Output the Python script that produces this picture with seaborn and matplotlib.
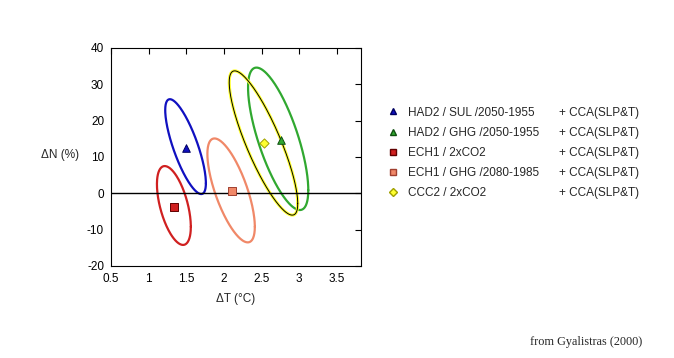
import numpy as np
import pandas as pd
import matplotlib.pyplot as plt
import seaborn as sns
from matplotlib.lines import Line2D

sns.set_style("white")
plt.rcParams['font.family'] = ['Liberation Sans', 'DejaVu Sans']
plt.rcParams['axes.unicode_minus'] = False

# Data
models = ['HAD2 / SUL /2050-1955', 'HAD2 / GHG /2050-1955', 'ECH1 / 2xCO2',
          'ECH1 / GHG /2080-1985', 'CCC2 / 2xCO2']
method = '+ CCA(SLP&T)'
dT = [1.50, 2.76, 1.34, 2.11, 2.53]
dN = [12.5, 14.8, -3.7, 0.6, 13.8]

# Ellipses: centre, half-width in x, half-height in y, phase (sets tilt)
ell_cx = [1.49, 2.72, 1.335, 2.095, 2.525]
ell_cy = [12.85, 15.0, -3.35, 0.8, 13.85]
ell_ax = [0.27, 0.40, 0.225, 0.315, 0.455]
ell_ay = [13.05, 19.6, 10.85, 14.3, 19.85]
ell_cos = [-0.77, -0.72, -0.54, -0.70, -0.84]

colors = ['#1010C0', '#30A830', '#D02020', '#F08868', '#FFFF30']
marker_list = ['^', '^', 's', 's', 'D']
marker_edge = ['#000060', '#105010', '#600000', '#A04030', '#A0A000']

fig = plt.figure(figsize=(6.74, 3.58), dpi=100)
ax = fig.add_axes([0.1647, 0.257, 0.3709, 0.609])

t = np.linspace(0, 2 * np.pi, 200)
for i in range(len(models)):
    phi = np.arccos(ell_cos[i])
    ex = ell_cx[i] + ell_ax[i] * np.cos(t)
    ey = ell_cy[i] + ell_ay[i] * np.cos(t + phi)
    edf = pd.DataFrame({'x': ex, 'y': ey})
    if i == 4:
        sns.lineplot(data=edf, x='x', y='y', sort=False, ax=ax, color=colors[i], lw=2.2, estimator=None)
        sns.lineplot(data=edf, x='x', y='y', sort=False, ax=ax, color='black', lw=0.7, estimator=None)
    else:
        sns.lineplot(data=edf, x='x', y='y', sort=False, ax=ax, color=colors[i], lw=1.6, estimator=None)

ax.axhline(0, color='black', lw=1)

handles = []
for i in range(len(models)):
    sns.scatterplot(x=[dT[i]], y=[dN[i]], ax=ax, marker=marker_list[i], color=colors[i],
                    s=30 if i < 4 else 22, edgecolor=marker_edge[i], linewidth=0.7, zorder=5)
    handles.append(Line2D([], [], ls='none', marker=marker_list[i], color=colors[i],
                          markeredgecolor=marker_edge[i], markersize=4.5 if i < 4 else 4))

ax.set_xlim(0.5, 3.82)
ax.set_ylim(-20, 40)
ax.set_xticks([0.5, 1, 1.5, 2, 2.5, 3, 3.5])
ax.set_xticklabels(['0.5', '1', '1.5', '2', '2.5', '3', '3.5'])
ax.set_yticks([-20, -10, 0, 10, 20, 30, 40])
ax.tick_params(direction='in', length=4, width=0.8, top=True, right=True,
               labelsize=8.5, colors='black', pad=5)
for s in ax.spines.values():
    s.set_color('black')
    s.set_linewidth(0.8)
ax.set_xlabel('ΔT (°C)', fontsize=8.5, labelpad=6)
ax.set_ylabel('')
fig.text(0.089, 0.567, 'ΔN (%)', fontsize=8.5, ha='center', va='center')

leg = fig.legend(handles, models, loc='upper left', bbox_to_anchor=(0.560, 0.732),
                 frameon=False, fontsize=8.5, handlelength=0.8, handletextpad=0.9,
                 labelspacing=0.69)
fig.canvas.draw()
inv = fig.transFigure.inverted()
for txt in leg.get_texts():
    bb = txt.get_window_extent()
    yc = inv.transform(((bb.x0 + bb.x1) / 2, (bb.y0 + bb.y1) / 2))[1]
    fig.text(0.829, yc, method, fontsize=8.5, ha='left', va='center')

fig.text(0.9525, 0.0455, 'from Gyalistras (2000)', fontsize=8.8, ha='right', va='center',
         family=['Liberation Serif', 'DejaVu Serif'])

plt.savefig('out.png', dpi=100)
